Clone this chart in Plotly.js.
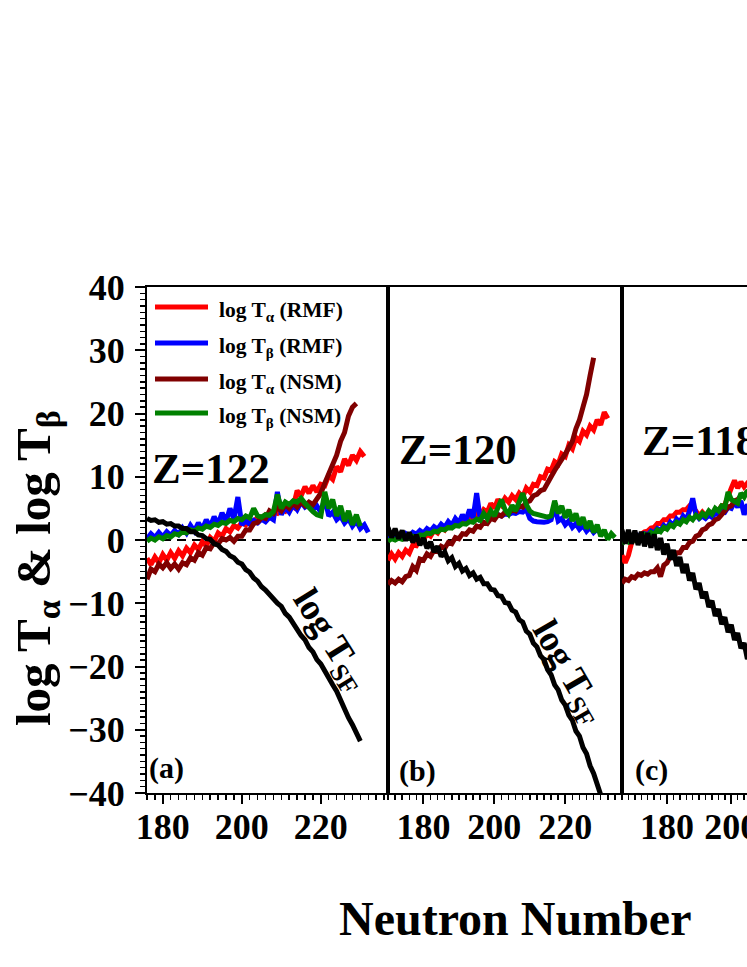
<!DOCTYPE html>
<html><head><meta charset="utf-8">
<script src="https://cdn.plot.ly/plotly-3.0.1.min.js"></script>
<style>html,body{margin:0;padding:0;overflow:hidden;background:#fff;width:747px;height:967px}#chart{width:900px;height:967px}</style>
</head><body><div id="chart"></div><script>
// ---------------- DATA (log10 half-lives vs neutron number) ----------------
// Panel (a) Z=122
const startA_SF = 176;
const sfA = [3.4,3.1,3.2,2.8,2.9,2.5,2.6,2.2,2.2,1.8,1.8,1.3,1.3,0.8,0.7,0.2,0.1,-0.6,-0.8,-1.5,-1.8,-2.5,-2.8,-3.5,-3.8,-4.7,-5.1,-6.0,-6.5,-7.4,-7.9,-8.7,-9.2,-10.0,-10.5,-11.6,-12.2,-13.3,-14.0,-15.1,-15.8,-17.0,-17.7,-18.9,-19.6,-20.8,-21.6,-22.9,-23.9,-25.4,-26.6,-28.1,-29.2,-30.7,-31.8];
const startA_bR = 176;
const betaRMF_A = [0.2,1.0,0.4,1.2,0.5,1.3,0.7,1.5,0.9,1.9,1.1,2.3,1.4,2.7,1.7,3.2,2.1,3.7,2.5,4.3,2.9,5.0,3.3,6.8,2.4,3.0,2.5,3.1,2.7,3.3,2.9,3.6,3.2,7.6,4.0,5.2,4.4,5.6,4.8,6.0,5.2,5.6,4.8,5.4,4.4,6.6,3.8,4.4,3.2,3.8,2.7,3.4,2.2,3.0,1.8,2.4,1.2];
const startA_bN = 176;
const betaNSM_A = [-0.2,0.3,0.0,0.5,0.2,0.7,0.5,1.0,0.8,1.3,1.1,1.6,1.4,1.9,1.7,2.2,2.0,2.5,2.3,2.8,2.6,3.1,2.9,3.4,3.2,3.8,3.5,5.0,3.8,3.6,4.0,3.9,4.5,7.2,5.0,6.0,5.6,6.2,6.0,6.6,5.8,5.0,4.5,4.0,3.8,7.6,5.0,6.4,3.8,5.4,3.0,4.6,2.4,4.0,2.2];
const startA_aR = 176;
const alphaRMF_A = [-2.9,-3.9,-2.7,-3.6,-2.3,-3.2,-2.0,-2.9,-1.7,-2.5,-1.3,-2.0,-0.8,-1.5,-0.3,-0.9,0.4,-0.2,1.1,0.6,1.8,1.3,2.3,1.9,2.8,2.4,3.2,2.9,3.6,3.3,4.0,3.8,4.4,4.2,5.0,4.6,5.6,5.2,7.8,7.0,8.4,7.4,8.6,7.6,8.8,8.6,10.2,9.6,11.6,10.8,12.8,11.8,13.4,12.6,14.0,13.2];
const startA_aN = 176;
const alphaNSM_A = [-6.2,-4.6,-5.0,-3.8,-4.4,-3.6,-4.5,-3.8,-4.6,-3.6,-3.9,-2.8,-3.2,-2.0,-2.4,-1.2,-1.4,-0.4,-0.6,0.2,0.0,0.4,-0.2,0.6,0.6,1.6,1.6,2.6,2.8,3.6,3.4,4.6,4.2,5.2,4.6,5.6,5.0,5.8,5.2,6.0,5.4,6.0,5.6,6.6,7.4,9.0,10.4,12.0,13.4,15.6,17.0,19.6,21.0,21.6];

// Panel (b) Z=120
const startB_SF = 170;
const sfB = [2.0,0.4,1.8,0.2,1.5,-0.1,1.2,-0.4,0.8,-0.8,0.3,-1.3,-0.3,-1.9,-1.0,-2.6,-1.9,-3.3,-2.8,-4.2,-3.7,-4.9,-4.5,-5.6,-5.2,-6.2,-5.9,-6.9,-6.9,-7.8,-7.9,-8.8,-8.9,-9.9,-10.0,-11.1,-11.4,-12.6,-13.0,-14.4,-14.9,-16.3,-16.9,-18.3,-18.9,-20.5,-21.3,-22.9,-23.7,-25.3,-26.1,-27.7,-28.5,-30.2,-31.0,-32.8,-33.8,-35.7,-36.9,-38.9,-40.2,-42.0];
const startB_bR = 170;
const betaRMF_B = [0.0,0.6,0.2,0.8,0.4,1.0,0.6,1.2,0.9,1.5,1.1,1.8,1.4,2.1,1.7,2.5,2.0,2.9,2.3,3.4,2.7,4.0,3.1,4.8,3.5,7.4,3.4,3.8,3.6,3.9,3.7,4.0,3.8,4.1,4.0,4.3,4.2,4.5,4.4,4.9,3.4,3.0,2.9,2.8,2.8,2.9,3.2,5.4,3.0,3.4,2.4,3.0,2.0,2.6,1.7,2.3,1.4,2.0,1.2,1.7,1.1];
const startB_bN = 170;
const betaNSM_B = [-0.2,0.2,0.0,0.3,0.1,0.4,0.3,0.6,0.5,0.8,0.7,1.1,1.0,1.4,1.3,1.7,1.6,2.0,1.9,2.3,2.2,2.6,2.5,2.9,2.8,3.3,3.1,4.2,3.4,4.6,3.8,5.0,6.4,4.8,4.1,5.5,4.6,6.0,7.4,5.6,4.6,4.2,4.0,3.8,3.7,3.6,3.8,6.2,4.2,5.4,3.5,4.8,3.0,4.2,2.4,3.6,1.8,3.0,1.2,2.4,0.6,1.6,0.1,1.0,0.4];
const startB_aR = 170;
const alphaRMF_B = [-3.2,-2.2,-3.0,-2.0,-2.6,-1.6,-2.1,-0.8,-0.9,0.2,0.0,1.0,0.6,1.5,1.1,2.0,1.6,2.5,2.1,3.0,2.6,3.4,3.0,3.8,3.4,4.2,3.8,4.8,4.4,5.8,5.0,6.4,5.6,6.6,6.0,7.0,6.4,7.4,6.8,8.2,7.6,8.8,8.6,10.0,9.8,11.2,11.0,12.4,12.0,13.6,13.2,15.0,14.4,16.2,15.6,17.2,16.6,18.0,17.4,19.0,18.2,20.2,19.2];
const startB_aN = 170;
const alphaNSM_B = [-7.0,-6.4,-6.8,-6.2,-6.6,-5.8,-5.6,-4.2,-4.8,-3.0,-3.2,-2.2,-2.6,-1.6,-1.8,-1.0,-1.3,-0.4,-0.6,0.4,0.2,1.0,0.9,1.6,1.4,2.2,2.0,2.8,2.6,3.4,3.2,4.0,3.8,4.4,4.2,4.8,4.6,5.4,5.2,6.0,6.2,7.0,7.2,7.8,8.0,9.2,10.0,11.0,11.8,12.8,13.6,14.6,15.6,17.6,19.0,21.0,23.0,26.0,28.8];

// Panel (c) Z=118
const startC_SF = 166;
const sfC = [1.6,-0.6,1.6,-0.6,1.5,-0.8,1.3,-1.0,1.1,-1.2,0.9,-1.6,0.3,-2.3,-0.6,-3.1,-1.6,-4.1,-2.7,-5.2,-3.8,-6.4,-5.2,-7.8,-6.8,-9.2,-8.2,-10.6,-9.6,-12.0,-10.9,-13.3,-12.2,-14.6,-13.4,-15.8,-14.7,-17.1,-16.3,-18.8,-17.8];
const startC_bR = 166;
const betaRMF_C = [-0.4,0.2,-0.2,0.4,0.1,0.7,0.4,1.0,0.8,1.4,1.1,1.8,1.5,2.3,1.9,2.8,2.3,3.3,2.8,3.8,3.2,4.6,6.6,4.0,3.4,3.8,3.4,3.9,3.6,4.2,4.0,4.6,4.4,5.2,5.0,6.0,5.2,6.2,4.0,5.6,4.8];
const startC_bN = 166;
const betaNSM_C = [-0.6,0.0,-0.3,0.3,0.0,0.6,0.3,0.9,0.6,1.2,0.9,1.6,1.3,2.0,1.7,2.4,2.1,2.8,2.5,3.2,2.9,3.6,3.2,3.9,3.5,4.2,3.8,4.6,4.1,5.0,4.6,5.4,5.2,7.6,6.4,6.0,5.8,7.4,6.8,7.8,7.0];
const startC_aR = 166;
const alphaRMF_C = [-2.4,-3.6,-2.4,-0.4,0.2,0.6,0.9,1.3,1.4,1.9,2.0,2.6,2.6,3.2,3.2,3.8,3.8,4.4,4.4,4.8,4.8,5.4,5.0,4.6,3.8,4.4,3.8,4.4,4.0,4.8,4.6,5.4,5.6,7.2,8.2,9.4,8.2,9.2,8.4,9.0,8.6];
const startC_aN = 166;
const alphaNSM_C = [-6.8,-6.2,-6.4,-5.8,-6.0,-5.4,-5.6,-5.2,-5.4,-5.0,-5.0,-4.4,-5.8,-4.0,-3.6,-2.6,-2.8,-2.0,-2.0,-1.2,-1.2,-0.4,-0.2,0.6,0.8,1.6,1.8,2.4,2.6,3.2,3.4,4.0,4.4,5.2,5.4,6.2,6.4,7.0,7.0,7.6,7.4];

const panelRanges = [[176,237],[170,236],[166,236]];
const xTicks = [180,200,220];
const zLabels = ['Z=122','Z=120','Z=118'];
const panelTags = ['(a)','(b)','(c)'];
const legendNames = ['log T<sub>α</sub> (RMF)','log T<sub>β</sub> (RMF)','log T<sub>α</sub> (NSM)','log T<sub>β</sub> (NSM)'];

// ---------------- STYLE ----------------
const FONT = 'Liberation Serif, "Times New Roman", Times, serif';
const COL = {aR:'#ff0000', bR:'#0000ff', aN:'#800000', bN:'#008000', sf:'#000000'};
const W = 900, H = 967;
const fx = p => p / W, fy = p => 1 - p / H;

function xs(start, arr){ return arr.map((_, i) => start + i); }
function tr(start, arr, color, ax){
  return {x: xs(start, arr), y: arr, type:'scatter', mode:'lines',
    line:{color:color, width:5}, xaxis:'x'+ax, yaxis:'y'+ax, showlegend:false, hoverinfo:'skip'};
}
const panels = [
  {ax:'', d:[[startA_aR,alphaRMF_A],[startA_bR,betaRMF_A],[startA_aN,alphaNSM_A],[startA_bN,betaNSM_A],[startA_SF,sfA]]},
  {ax:'2', d:[[startB_aR,alphaRMF_B],[startB_bR,betaRMF_B],[startB_aN,alphaNSM_B],[startB_bN,betaNSM_B],[startB_SF,sfB]]},
  {ax:'3', d:[[startC_aR,alphaRMF_C],[startC_bR,betaRMF_C],[startC_aN,alphaNSM_C],[startC_bN,betaNSM_C],[startC_SF,sfC]]}
];
const colors = [COL.aR, COL.bR, COL.aN, COL.bN, COL.sf];
const data = [];
panels.forEach(p => p.d.forEach((s, k) => data.push(tr(s[0], s[1], colors[k], p.ax))));

const xDom = [[147,388],[388,622],[622,847]];
const yDom = [fy(793), fy(287)];
const tickFont = {family:FONT, size:36, color:'#000', weight:'bold'};

const layout = {
  width:W, height:H, margin:{l:0,r:0,t:0,b:0}, paper_bgcolor:'#fff', plot_bgcolor:'#fff',
  showlegend:false, shapes:[], annotations:[]
};
[0,1,2].forEach(i => {
  const s = i === 0 ? '' : String(i+1);
  layout['xaxis'+s] = {domain:[fx(xDom[i][0]), fx(xDom[i][1])], range:panelRanges[i], anchor:'y'+s,
    tickvals:xTicks, ticktext:xTicks.map(String), ticks:'outside', ticklen:9, tickwidth:2, tickcolor:'#000',
    minor:{dtick:2, tick0:0, ticks:'outside', ticklen:5, tickwidth:1.5, tickcolor:'#000'},
    showline:true, linewidth:2, linecolor:'#000', mirror:true, showgrid:false, zeroline:false,
    tickangle:0, tickfont:tickFont, ticklabelstandoff:-8, fixedrange:true};
  layout['yaxis'+s] = {domain:yDom, range:[-40,40], anchor:'x'+s,
    showline:true, linewidth:2, linecolor:'#000', mirror:true, showgrid:false, zeroline:false, fixedrange:true,
    showticklabels: i === 0, ticks: i === 0 ? 'outside' : '',
    dtick:10, tick0:0, ticklen:10, tickwidth:2, tickcolor:'#000', tickfont:tickFont, ticklabelstandoff:3,
    minor: i === 0 ? {dtick:1, ticks:'outside', ticklen:5, tickwidth:1.5, tickcolor:'#000'} : {ticks:''}};
  layout.shapes.push({type:'line', xref:'x'+s, yref:'y'+s, x0:panelRanges[i][0], x1:panelRanges[i][1], y0:0, y1:0,
    layer:'below', line:{color:'#000', width:2, dash:'9px,6px'}});
});

// legend (panel a)
const legRows = [307, 343, 379, 413];
const legCols = [COL.aR, COL.bR, COL.aN, COL.bN];
legRows.forEach((r, k) => {
  layout.shapes.push({type:'line', xref:'paper', yref:'paper', x0:fx(155), x1:fx(208), y0:fy(r), y1:fy(r),
    line:{color:legCols[k], width:5}});
  layout.annotations.push({xref:'paper', yref:'paper', x:fx(217), y:fy(r+4), xanchor:'left', yanchor:'middle',
    text:legendNames[k], showarrow:false, font:{family:FONT, size:21.5, color:'#000', weight:'bold'}});
});

const ann = (x, y, text, size, opts) => Object.assign({xref:'paper', yref:'paper', x:fx(x), y:fy(y), text:text,
  showarrow:false, xanchor:'center', yanchor:'middle', font:{family:FONT, size:size, color:'#000', weight:'bold'}}, opts||{});

layout.annotations.push(ann(211, 468, zLabels[0], 43));
layout.annotations.push(ann(458, 450, zLabels[1], 43));
layout.annotations.push(ann(640, 441, zLabels[2], 43, {xanchor:'left'}));
layout.annotations.push(ann(166, 768, panelTags[0], 30));
layout.annotations.push(ann(417, 771, panelTags[1], 30));
layout.annotations.push(ann(651, 770, panelTags[2], 30));
layout.annotations.push(ann(330, 640, 'log T<sub>SF</sub>', 37, {textangle:58}));
layout.annotations.push(ann(568, 672, 'log T<sub>SF</sub>', 37, {textangle:60}));
layout.annotations.push(ann(36, 568, 'log T<sub>α</sub> &amp; log T<sub>β</sub>', 49, {textangle:-90}));
layout.annotations.push(ann(515, 918, 'Neutron Number', 48));

Plotly.newPlot('chart', data, layout, {staticPlot:true, displayModeBar:false});
</script></body></html>
